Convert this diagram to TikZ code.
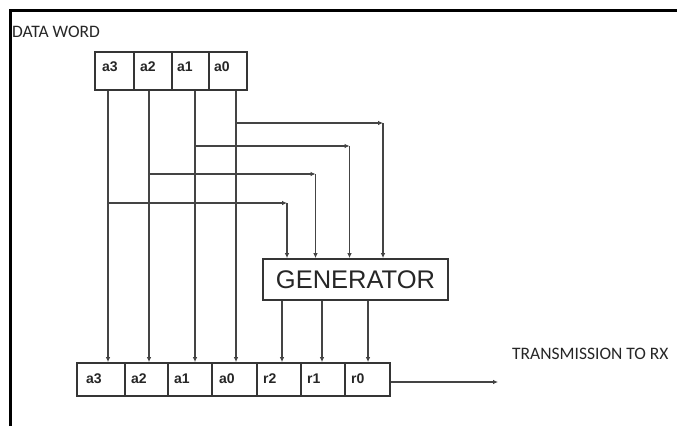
\documentclass[tikz,border=0pt]{standalone}
\usepackage{fontspec}
\setmainfont{Carlito}
\newfontfamily\arialfont{Liberation Sans}
\usetikzlibrary{arrows.meta}

\definecolor{wire}{HTML}{444444}
\definecolor{boxline}{HTML}{353535}
\definecolor{inktext}{HTML}{262626}

\tikzset{
  cellbox/.style={draw=boxline, line width=1.8pt, minimum height=#1, inner sep=0pt},
  celltxt/.style={anchor=base west, font=\arialfont\bfseries\fontsize{14}{15}\selectfont, text=inktext, inner sep=0pt},
  wireline/.style={draw=wire, line width=1.1pt},
  wirearrow/.style={wireline, -{Latex[length=5pt,width=4.6pt]}},
  caption/.style={anchor=west, font=\fontsize{17.5}{19}\selectfont, text=inktext, inner sep=0pt},
}

\begin{document}
\begin{tikzpicture}[x=1pt, y=-1pt]
  \useasboundingbox (0,0) rectangle (677,426);

  % page frame (top and left edge)
  \draw[line width=2.6pt, black] (10.5,426) -- (10.5,10.5) -- (677,10.5);

  % heading
  \node[caption] (title) at (12,32) {DATA WORD};

  % data word register
  \node[cellbox=38pt, minimum width=39pt] (t3) at (114.5,71) {};
  \node[cellbox=38pt, minimum width=38pt] (t2) at (153,71) {};
  \node[cellbox=38pt, minimum width=37pt] (t1) at (190.5,71) {};
  \node[cellbox=38pt, minimum width=38pt] (t0) at (228,71) {};
  \node[celltxt] (lt3) at (102,71) {a3};
  \node[celltxt] (lt2) at (140,71) {a2};
  \node[celltxt] (lt1) at (177,71) {a1};
  \node[celltxt] (lt0) at (214,71) {a0};

  % generator block
  \node[draw=boxline, line width=1.8pt, minimum width=185pt, minimum height=41pt, inner sep=0pt,
        font=\arialfont\fontsize{25.5}{27}\selectfont, text=inktext] (gen) at (355.5,279.5) {GENERATOR};

  % transmitted code word register
  \node[cellbox=33pt, minimum width=48pt] (b3) at (101,379.5) {};
  \node[cellbox=33pt, minimum width=43pt] (b2) at (146.5,379.5) {};
  \node[cellbox=33pt, minimum width=44pt] (b1) at (190,379.5) {};
  \node[cellbox=33pt, minimum width=45pt] (b0) at (234.5,379.5) {};
  \node[cellbox=33pt, minimum width=44pt] (r2) at (279,379.5) {};
  \node[cellbox=33pt, minimum width=44pt] (r1) at (323,379.5) {};
  \node[cellbox=33pt, minimum width=45pt] (r0) at (367.5,379.5) {};
  \node[celltxt] (lb3) at (86,383) {a3};
  \node[celltxt] (lb2) at (131,383) {a2};
  \node[celltxt] (lb1) at (174,383) {a1};
  \node[celltxt] (lb0) at (219,383) {a0};
  \node[celltxt] (lr2) at (263,383) {r2};
  \node[celltxt] (lr1) at (307,383) {r1};
  \node[celltxt] (lr0) at (351,383) {r0};

  % tap points under the data bits
  \coordinate (v3) at ([xshift=-6.5pt]t3.south);
  \coordinate (v2) at ([xshift=-4pt]t2.south);
  \coordinate (v1) at ([xshift=4.5pt]t1.south);
  \coordinate (v0) at ([xshift=8pt]t0.south);

  % data bits pass straight through
  \draw[wirearrow] (v3) -- (v3 |- b3.north);
  \draw[wirearrow] (v2) -- (v2 |- b2.north);
  \draw[wirearrow] (v1) -- (v1 |- b1.north);
  \draw[wirearrow] (v0) -- (v0 |- b0.north);

  % corners where each bit turns down into the generator
  \coordinate (k3) at (287,203);
  \coordinate (k2) at (315.5,174);
  \coordinate (k1) at (349.5,146);
  \coordinate (k0) at (383,123);

  \draw[wirearrow] (v3 |- k3) -- (k3);
  \draw[wirearrow] (v2 |- k2) -- (k2);
  \draw[wirearrow] (v1 |- k1) -- (k1);
  \draw[wirearrow] (v0 |- k0) -- (k0);
  \draw[wirearrow] (k3) -- (k3 |- gen.north);
  \draw[wirearrow] (k2) -- (k2 |- gen.north);
  \draw[wirearrow] (k1) -- (k1 |- gen.north);
  \draw[wirearrow] (k0) -- (k0 |- gen.north);

  % redundancy bits out of the generator
  \coordinate (o2) at (282,300);
  \coordinate (o1) at (322,300);
  \coordinate (o0) at (368,300);
  \draw[wirearrow] (o2 |- gen.south) -- (o2 |- r2.north);
  \draw[wirearrow] (o1 |- gen.south) -- (o1 |- r1.north);
  \draw[wirearrow] (o0 |- gen.south) -- (o0 |- r0.north);

  % transmission
  \coordinate (rx) at (498,382);
  \draw[wirearrow] (r0.east |- rx) -- (rx);
  \node[caption] (txt) at (512,354) {TRANSMISSION TO RX};
\end{tikzpicture}
\end{document}
